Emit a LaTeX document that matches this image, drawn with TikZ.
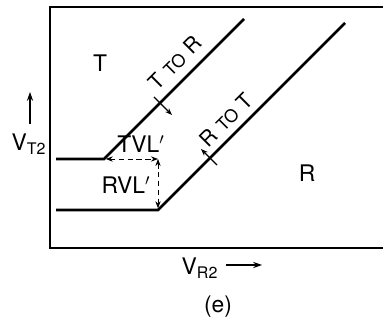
\documentclass[tikz,border=0pt]{standalone}
\usepackage{fontspec}
\setmainfont{TeX Gyre Heros}
\usetikzlibrary{arrows.meta,positioning}

\begin{document}
\begin{tikzpicture}[
    x=0.02cm, y=-0.02cm,
    curve/.style={line width=1.6pt},
    frame/.style={line width=0.8pt},
    dim/.style={densely dashed, line width=0.5pt, {Stealth[length=4pt,width=3pt]}-{Stealth[length=4pt,width=3pt]}},
    tick/.style={line width=0.7pt},
    lbl/.style={inner sep=1pt, font=\fontsize{13}{15}\selectfont},
    small/.style={inner sep=0pt, font=\fontsize{12}{14}\selectfont}
]
\useasboundingbox (0,0) rectangle (385,320);

% frame
\coordinate (TL) at (50,7);
\coordinate (TR) at (383,7);
\coordinate (BL) at (50,248);
\coordinate (BR) at (383,248);
\draw[frame] (TR) -- (TL) -- (BL) -- (BR);

% T to R boundary
\coordinate (TA) at (56,159);
\coordinate (TK) at (104,159);
\coordinate (TE) at (244,19);
\draw[curve] (TA) -- (TK) -- (TE);

% R to T boundary
\coordinate (RA) at (56,210);
\coordinate (RK) at (158,210);
\coordinate (RE) at (345,23);
\draw[curve] (RA) -- (RK) -- (RE);

% dimensions
\coordinate (DC) at (158,159);
\draw[dim, shorten <=1pt] (TK) -- (DC);
\draw[dim, shorten >=1pt] (DC) -- (RK);

% ticks with direction arrows
\coordinate (T1) at (154,97);
\coordinate (T2) at (172,115);
\draw[tick, -{Stealth[length=4pt,width=3pt]}] (T1) -- (T2);
\coordinate (R1) at (217,165);
\coordinate (R2) at (201,149);
\draw[tick, -{Stealth[length=4pt,width=3pt]}] (R1) -- (R2);

% labels
\node[lbl] (regT) at (100,63) {T};
\node[lbl] (regR) at (307,173) {R};
\node[lbl] (tvl) at (141,144) {TVL$'$};
\node[lbl] (rvl) at (126,185) {RVL$'$};
\node[small, rotate=45] (ttor) at (175,63) {T\hspace{4pt}{\fontsize{10}{11}\selectfont TO}\hspace{4pt}R};
\node[small, rotate=45] (rtot) at (226,120) {R\hspace{4pt}{\fontsize{10}{11}\selectfont TO}\hspace{4pt}T};

% axes
\node[lbl] (vt) at (29,144) {V\textsubscript{T2}};
\coordinate (vtlow) at (30,124);
\coordinate (vtup) at (30,92);
\draw[line width=0.9pt, -{Stealth[length=5pt,width=3.5pt]}] (vtlow) -- (vtup);
\node[lbl] (vr) at (200,268) {V\textsubscript{R2}};
\coordinate (vrbeg) at (226,265);
\coordinate (vrend) at (262,265);
\draw[line width=0.9pt, -{Stealth[length=5pt,width=3.5pt]}] (vrbeg) -- (vrend);

\node[lbl] (cap) at (218,307) {(e)};
\end{tikzpicture}
\end{document}
